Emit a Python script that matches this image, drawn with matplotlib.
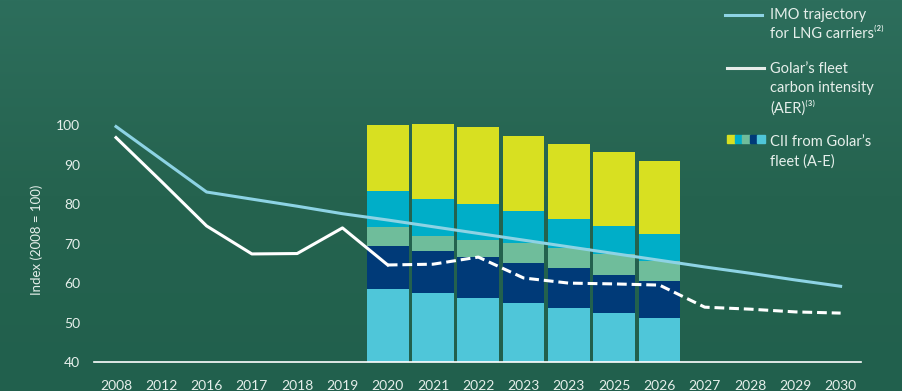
import numpy as np
import matplotlib.pyplot as plt
from matplotlib.colors import LinearSegmentedColormap

# category labels along the x axis (as printed on the chart)
years = ["2008", "2012", "2016", "2017", "2018", "2019", "2020", "2021", "2022",
         "2023", "2023", "2025", "2026", "2027", "2028", "2029", "2030"]

# IMO trajectory for LNG carriers
imo = [99.7, 91.4, 83.1, 81.3, 79.5, 77.6, 76.0, 74.3, 72.6, 70.9, 69.2,
       67.5, 65.8, 64.1, 62.5, 60.8, 59.2]

# Golar's fleet carbon intensity (AER): actual (solid) then projected (dashed)
aer_actual = [96.9, 85.8, 74.5, 67.4, 67.5, 74.0, 64.6]
aer_proj = [64.6, 64.8, 66.6, 61.3, 60.0, 59.8, 59.5, 53.9, 53.4, 52.7, 52.4]

# CII bands (A-E), cumulative upper bound of each band for 2020..2026
bar_years = years[6:13]
band_e = [58.5, 57.5, 56.2, 55.0, 53.7, 52.4, 51.2]
band_d = [69.4, 68.1, 66.6, 65.1, 63.8, 62.1, 60.5]
band_c = [74.2, 72.0, 70.9, 70.2, 68.9, 67.4, 65.6]
band_b = [83.4, 81.3, 80.1, 78.3, 76.3, 74.5, 72.5]
band_a = [100.1, 100.3, 99.6, 97.3, 95.3, 93.2, 91.0]
band_colors = ["#4fc6d9", "#003a78", "#6fbd9b", "#00aec8", "#d8e021"]

text_col = "#e6efeb"
font = ["Lato", "DejaVu Sans"]

fig = plt.figure(figsize=(9.03, 3.91), dpi=100)

# textured green backdrop, approximated with a vertical gradient
bg = fig.add_axes([0, 0, 1, 1])
cmap = LinearSegmentedColormap.from_list("bg", ["#2d6e5c", "#25634f", "#21604d"])
bg.imshow(np.linspace(0, 1, 256).reshape(-1, 1), aspect="auto", cmap=cmap,
          extent=(0, 1, 0, 1))
bg.set_axis_off()

W, H = 903, 391
ax = fig.add_axes([94 / W, (H - 362) / H, (861 - 94) / W, 62 * 3.944 / H])
ax.set_facecolor("none")

x = np.arange(len(years))
xb = x[6:13]
bottom = [40] * len(bar_years)
for tops, col in zip([band_e, band_d, band_c, band_b, band_a], band_colors):
    heights = np.array(tops) - np.array(bottom)
    ax.bar(xb, heights, bottom=bottom, width=0.92, color=col, zorder=2)
    bottom = tops

ax.plot(x, imo, color="#8dd3e4", lw=2.2, zorder=3)
ax.plot(x[:7], aer_actual, color="white", lw=2.2, zorder=3)
ax.plot(x[6:], aer_proj, color="white", lw=2.2, ls=(0, (3.2, 1.6)), zorder=3)

ax.set_xlim(-0.486, 16.45)
ax.set_ylim(40, 102)
ax.set_yticks(range(40, 101, 10))
ax.set_xticks(x)
ax.set_xticklabels(years)
for s in ["top", "right", "left"]:
    ax.spines[s].set_visible(False)
ax.spines["bottom"].set_color("white")
ax.spines["bottom"].set_linewidth(1.2)
ax.tick_params(axis="both", length=0, colors=text_col, labelsize=10)
ax.tick_params(axis="y", pad=10)
ax.tick_params(axis="x", pad=13)
for lab in ax.get_xticklabels() + ax.get_yticklabels():
    lab.set_family(font)
ax.set_ylabel("Index (2008 = 100)", color=text_col, fontsize=9.5, family=font,
              labelpad=9)

# legend drawn by hand on the right
def fx(px):
    return px / W


def fy(py):
    return 1 - py / H


fig.lines.append(plt.Line2D([fx(725), fx(762)], [fy(15), fy(15)],
                            color="#8dd3e4", lw=2.2, transform=fig.transFigure))
fig.lines.append(plt.Line2D([fx(727), fx(764)], [fy(68), fy(68)],
                            color="#e6ece9", lw=2.2, transform=fig.transFigure))
for i, col in enumerate(["#d8e021", "#00aec8", "#6fbd9b", "#003a78", "#4fc6d9"]):
    fig.patches.append(plt.Rectangle((fx(727 + i * 7.6), fy(143)), 7.6 / W, 8 / H,
                                     color=col, transform=fig.transFigure))

legend_lines = [
    (15, "IMO trajectory"), (34, "for LNG carriers⁽²⁾"),
    (69, "Golar’s fleet"), (88, "carbon intensity"), (108, "(AER)⁽³⁾"),
    (142, "CII from Golar’s"), (162, "fleet (A-E)"),
]
for py, s in legend_lines:
    fig.text(fx(770), fy(py), s, color=text_col, fontsize=10.5, family=font,
             va="center", ha="left")

fig.savefig("out.png", dpi=100)
